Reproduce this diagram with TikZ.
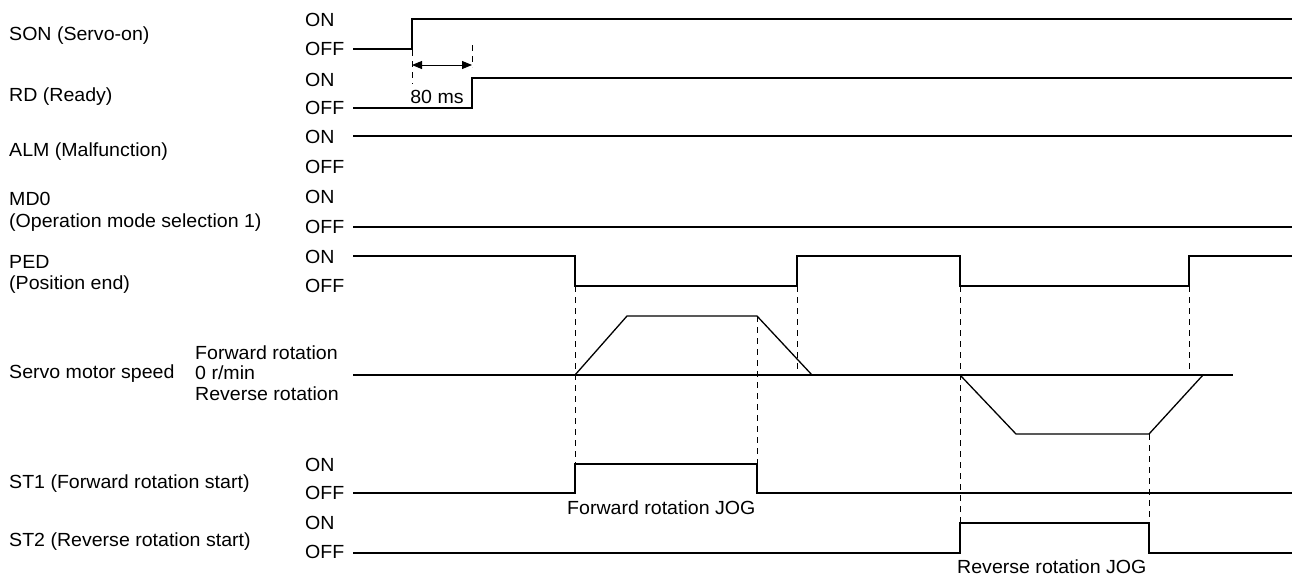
\documentclass[tikz,border=0pt]{standalone}
\usepackage{fontspec}
\setmainfont{Liberation Sans}[FakeStretch=1.03]
\usetikzlibrary{arrows.meta}
\begin{document}
\begin{tikzpicture}[x=1pt,y=-1pt,
  sig/.style={line width=1.3pt,line join=miter},
  guide/.style={line width=0.9pt,dash pattern=on 6pt off 5pt},
  lbl/.style={anchor=west,inner sep=0pt,font=\fontsize{19}{21}\selectfont},
  ctr/.style={inner sep=0pt,font=\fontsize{19}{21}\selectfont}]
\useasboundingbox (0,0) rectangle (1295,581);
% left labels
\node[lbl] (son) at (9,36) {SON (Servo-on)};
\node[lbl] (rd) at (9,97) {RD (Ready)};
\node[lbl] (alm) at (9,152) {ALM (Malfunction)};
\node[lbl] (md0) at (9,199) {MD0};
\node[lbl] (md0b) at (9,223) {(Operation mode selection 1)};
\node[lbl] (ped) at (9,262) {PED};
\node[lbl] (pedb) at (9,285) {(Position end)};
\node[lbl] (spd) at (9,374) {Servo motor speed};
\node[lbl] (fwd) at (195,353) {Forward rotation};
\node[lbl] (zero) at (195,373) {0 r/min};
\node[lbl] (rev) at (195,394) {Reverse rotation};
\node[lbl] (st1) at (9,484) {ST1 (Forward rotation start)};
\node[lbl] (st2) at (9,542) {ST2 (Reverse rotation start)};
% ON/OFF labels
\foreach \n/\on/\off in {a/20/49, b/80/108, c/137/167, d/197/227, e/257/286, f/465/493, g/523/552}{
  \node[lbl] (on\n) at (305,\on) {ON};
  \node[lbl] (off\n) at (305,\off) {OFF};
}
% SON
\draw[sig] (353,49) -- (412,49) -- (412,19) -- (1292,19);
% RD
\draw[sig] (353,108) -- (472,108) -- (472,78) -- (1292,78);
% ALM
\draw[sig] (353,136) -- (1292,136);
% MD0
\draw[sig] (353,227) -- (1292,227);
% PED
\draw[sig] (353,256) -- (575,256) -- (575,286) -- (797,286) -- (797,256) -- (960,256) -- (960,286) -- (1189,286) -- (1189,256) -- (1292,256);
% speed
\draw[sig] (353,375) -- (1233,375);
\draw[sig] (575,375) -- (627,316) -- (757,316) -- (812,375);
\draw[sig] (960,375) -- (1016,434) -- (1149,434) -- (1203,375);
% ST1
\draw[sig] (353,493) -- (575,493) -- (575,464) -- (757,464) -- (757,493) -- (1292,493);
% ST2
\draw[sig] (353,553) -- (960,553) -- (960,523) -- (1149,523) -- (1149,553) -- (1292,553);
% 80 ms
\draw[guide] (412,50) -- (412,84);
\draw[guide] (472,45) -- (472,67);
\draw[line width=0.9pt,{Triangle[length=10pt,width=8pt]}-{Triangle[length=10pt,width=8pt]}] (412,65) -- (472,65);
\node[ctr] (ms) at (437,97) {80 ms};
% guides
\draw[guide] (575,286) -- (575,464);
\draw[guide] (757,316) -- (757,464);
\draw[guide] (797,286) -- (797,370);
\draw[guide] (960,286) -- (960,523);
\draw[guide] (1189,286) -- (1189,372);
\draw[guide] (1149,434) -- (1149,523);
% JOG labels
\node[lbl] (fjog) at (567,508) {Forward rotation JOG};
\node[lbl] (rjog) at (957,567) {Reverse rotation JOG};
\end{tikzpicture}
\end{document}
